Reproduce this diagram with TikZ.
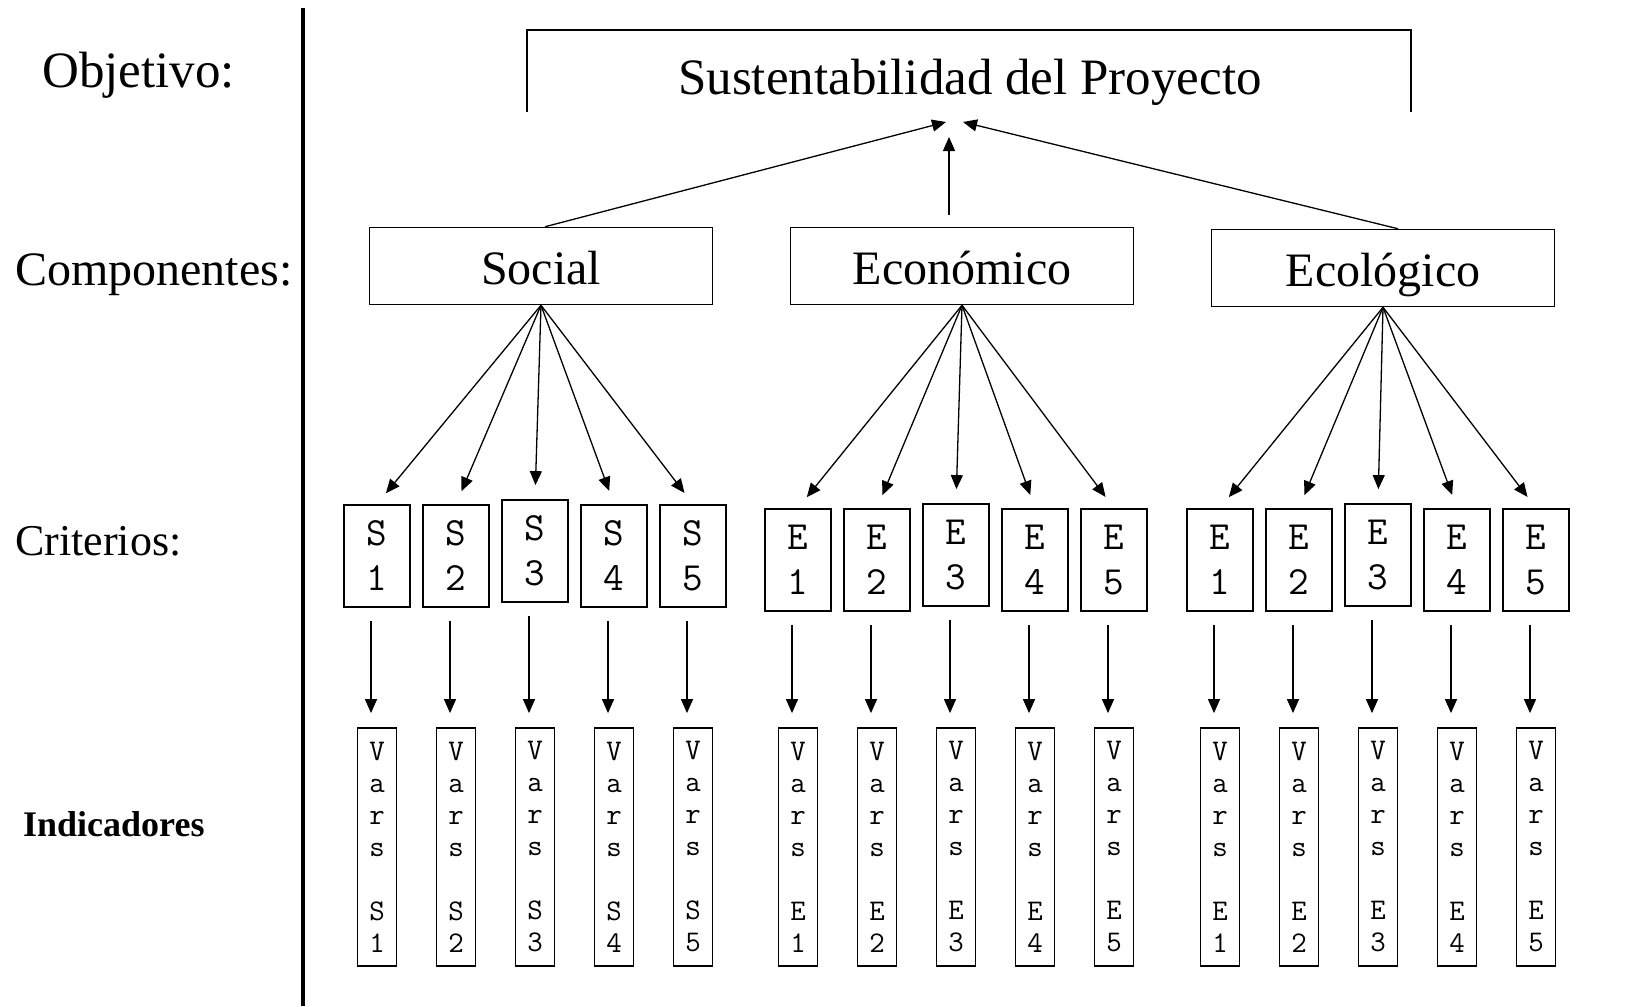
\documentclass[tikz,border=0pt]{standalone}
\usepackage{fontspec}
\setmainfont{Liberation Serif}
\usetikzlibrary{arrows.meta}

\begin{document}
\begin{tikzpicture}[x=1pt,y=-1pt,
		lbl/.style={anchor=base west,inner sep=0pt},
		comp/.style={draw,line width=1.5pt,minimum width=343pt,minimum height=77pt,text height=36pt,text depth=0pt,font=\fontsize{48}{54}\selectfont},
		crit/.style={draw,line width=1.8pt,minimum width=66pt,minimum height=102pt,inner sep=0pt,align=center,font=\ttfamily\fontsize{40}{45}\selectfont},
		ind/.style={draw,line width=1.8pt,minimum width=39pt,minimum height=238pt,inner sep=0pt,align=center,font=\ttfamily\fontsize{30}{32}\selectfont},
		arr/.style={line width=1.3pt,-{Triangle[length=14pt,width=12pt]}}]
		\useasboundingbox (0,0) rectangle (1632,1006);
		\draw[line width=3.5pt] (303,8) -- (303,1006);
		
		\node[lbl,font=\fontsize{51}{56}\selectfont] (lobj) at (42,88) {Objetivo:};
		\node[lbl,font=\fontsize{48}{54}\selectfont] (lcomp) at (15,285) {Componentes:};
		\node[lbl,font=\fontsize{44}{50}\selectfont] (lcrit) at (15,555) {Criterios:};
		\node[lbl,font=\bfseries\fontsize{36}{40}\selectfont] (lind) at (23,836) {Indicadores};
		
		\draw[line width=1.5pt] (527,112) -- (527,30) -- (1411,30) -- (1411,112);
		\node[anchor=base,inner sep=0pt,font=\fontsize{51}{56}\selectfont] (goal) at (970,95) {Sustentabilidad del Proyecto};
		
		\node[comp] (soc) at (541,266) {Social};
		\node[comp] (eco) at (962,266) {Económico};
		\node[comp] (ecl) at (1383,268) {Ecológico};
		
		\coordinate (gl) at (946,122);
		\coordinate (gm) at (949,137);
		\coordinate (gr) at (963,122);
		\draw[arr] ([xshift=4pt]soc.north) -- (gl);
		\draw[arr,shorten <=12pt] ([xshift=-13pt]eco.north) -- (gm);
		\draw[arr] ([xshift=15pt]ecl.north) -- (gr);
		
		% criterios e indicadores
		\foreach \g/\L/\x/\y/\c in {s/S/377/556/soc, e/E/798/560/eco, o/E/1220/560/ecl}
		\foreach \i in {1,...,5} {
			\pgfmathsetmacro\cx{\x+79*(\i-1)}
			\pgfmathsetmacro\cy{\i==3 ? \y-5 : \y}
			\node[crit] (c\g\i) at (\cx,\cy) {\L\\\i};
			\node[ind] (i\g\i) at (\cx,847) {V\\a\\r\\s\\~\\\L\\\i};
			\draw[arr,shorten >=14pt] (\c.south) -- (c\g\i.north);
			\draw[arr,shorten <=13pt,shorten >=14pt] ([xshift=-6pt]c\g\i.south) -- ([xshift=-6pt]i\g\i.north);
		}
	\end{tikzpicture}
\end{document}
